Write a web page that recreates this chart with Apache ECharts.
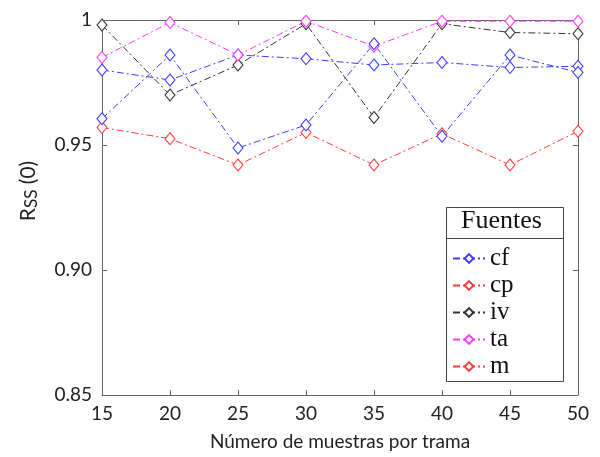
<!DOCTYPE html>
<html>
<head>
<meta charset="utf-8">
<script src="https://cdn.jsdelivr.net/npm/echarts@6/dist/echarts.min.js"></script>
<style>
  html, body { margin: 0; padding: 0; background: #fff; }
  #main { width: 600px; height: 457px; }
</style>
</head>
<body>
<div id="main"></div>
<script>
// data
const muestras = [15, 20, 25, 30, 35, 40, 45, 50];
const cf = [0.980, 0.976, 0.986, 0.9845, 0.982, 0.983, 0.981, 0.9815];
const cp = [0.957, 0.9525, 0.942, 0.955, 0.942, 0.9545, 0.942, 0.9555];
const iv = [0.998, 0.970, 0.982, 0.9985, 0.961, 0.9985, 0.995, 0.9945];
const ta = [0.985, 0.999, 0.986, 0.9995, 0.9895, 0.9995, 0.9995, 0.9995];
const m = [0.9605, 0.986, 0.9488, 0.958, 0.9905, 0.9535, 0.986, 0.979];
const yTicks = [0.85, 0.90, 0.95, 1];

const BLUE = '#3c3cff', RED = '#ff3c3c', BLACK = '#333333', MAG = '#ff3cff';
const dashDot = [7, 3, 2, 3];

function serie(name, vals, color) {
  return {
    name: name,
    type: 'line',
    data: muestras.map((x, i) => [x, vals[i]]),
    symbol: 'diamond',
    symbolSize: [10, 12],
    itemStyle: { color: '#fff', borderColor: color, borderWidth: 1 },
    lineStyle: { color: color, width: 1, type: dashDot },
    emphasis: { disabled: true },
    z: 3
  };
}

const chart = echarts.init(document.getElementById('main'));
const labelFont = 'Lato, "Open Sans", sans-serif';
const axisColor = '#666';

chart.setOption({
  animation: false,
  grid: { left: 102, right: 22, top: 20, bottom: 62 },
  xAxis: [{
    type: 'value', min: 15, max: 50, interval: 5,
    axisLine: { lineStyle: { color: axisColor } },
    axisTick: { inside: true, length: 5, lineStyle: { color: axisColor } },
    axisLabel: { color: '#222', fontSize: 19, fontFamily: labelFont, margin: 9 },
    splitLine: { show: false },
    name: 'Número de muestras por trama', nameLocation: 'middle', nameGap: 37,
    nameTextStyle: { color: '#222', fontSize: 19, fontFamily: labelFont }
  }, {
    type: 'value', position: 'top', min: 15, max: 50, interval: 5,
    axisLine: { lineStyle: { color: axisColor } },
    axisTick: { inside: true, length: 5, lineStyle: { color: axisColor } },
    axisLabel: { show: false }, splitLine: { show: false }
  }],
  yAxis: [{
    type: 'value', min: 0.85, max: 1, interval: 0.05,
    axisLine: { show: true, lineStyle: { color: axisColor } },
    axisTick: { show: true, inside: true, length: 5, lineStyle: { color: axisColor } },
    axisLabel: {
      color: '#222', fontSize: 19, fontFamily: labelFont, margin: 10,
      formatter: v => yTicks.find(t => Math.abs(t - v) < 1e-6) === 1 ? '1' : v.toFixed(2)
    },
    splitLine: { show: false }
  }, {
    type: 'value', position: 'right', min: 0.85, max: 1, interval: 0.05,
    axisLine: { show: true, lineStyle: { color: axisColor } },
    axisTick: { show: true, inside: true, length: 5, lineStyle: { color: axisColor } },
    axisLabel: { show: false }, splitLine: { show: false }
  }],
  legend: {
    orient: 'vertical', left: 447, top: 241,
    itemWidth: 32, itemHeight: 11, itemGap: 2,
    textStyle: { fontFamily: '"Liberation Serif", serif', fontSize: 25, lineHeight: 25, color: '#111' },
    data: [
      'cf', 'cp', 'iv', 'ta',
      { name: 'm', itemStyle: { color: '#fff', borderColor: RED }, lineStyle: { color: RED } }
    ]
  },
  graphic: [
    { type: 'rect', shape: { x: 446.5, y: 207.5, width: 117, height: 174 },
      style: { fill: 'rgba(255,255,255,0)', stroke: '#444', lineWidth: 1 }, z: 10 },
    { type: 'line', shape: { x1: 446.5, y1: 238.5, x2: 563.5, y2: 238.5 },
      style: { stroke: '#444', lineWidth: 1 }, z: 10 },
    { type: 'text', left: 461, top: 208, z: 10,
      style: { text: 'Fuentes', font: '26px "Liberation Serif", serif', fill: '#111' } },
    { type: 'text', x: 28, y: 191, rotation: Math.PI / 2, z: 10,
      style: {
        text: '{r|R}{s|SS}{r| (0)}',
        align: 'center', verticalAlign: 'middle',
        rich: {
          r: { fontSize: 21, fontFamily: labelFont, fill: '#222' },
          s: { fontSize: 17, fontFamily: labelFont, fill: '#222', padding: [8, 0, 0, 0] }
        }
      } }
  ],
  series: [
    serie('cf', cf, BLUE),
    serie('cp', cp, RED),
    serie('iv', iv, BLACK),
    serie('ta', ta, MAG),
    serie('m', m, BLUE)
  ]
});
</script>
</body>
</html>
